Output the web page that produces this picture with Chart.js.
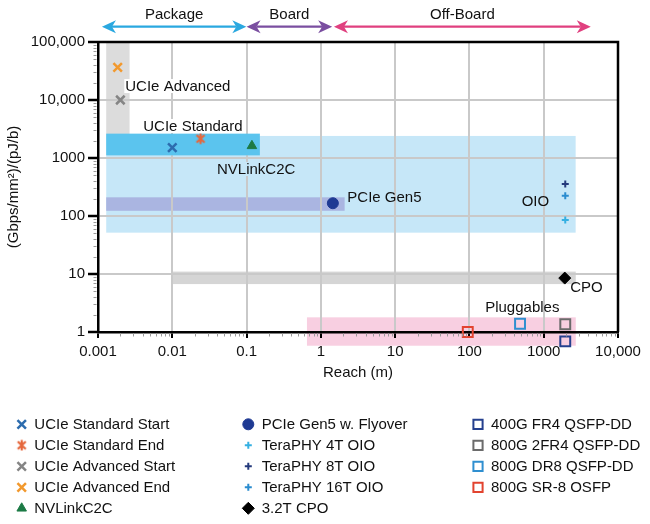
<!DOCTYPE html>
<html><head><meta charset="utf-8">
<script src="https://cdn.jsdelivr.net/npm/chart.js@4.4.1/dist/chart.umd.min.js"></script>
<style>html,body{margin:0;padding:0;background:#fff;}#wrap{width:650px;height:524px;}</style>
</head><body><div id="wrap"><canvas id="c" width="650" height="524"></canvas></div>
<script>
// ---------- data ----------
const seriesNames = ['UCIe Standard Start','UCIe Standard End','UCIe Advanced Start','UCIe Advanced End','NVLinkC2C',
  'PCIe Gen5 w. Flyover','TeraPHY 4T OIO','TeraPHY 8T OIO','TeraPHY 16T OIO','3.2T CPO',
  '400G FR4 QSFP-DD','800G 2FR4 QSFP-DD','800G DR8 QSFP-DD','800G SR-8 OSFP'];
const seriesReach = [0.01, 0.024, 0.002, 0.00184, 0.118, 1.45, 1950, 1950, 1950, 1920, 1950, 1950, 480, 95];
const seriesDensity = [1510, 2150, 10000, 36500, 1620, 166, 85, 357, 224, 8.5, 0.69, 1.36, 1.39, 1.0];

const bandNames = ['UCIe Advanced','OIO','PCIe','CPO','Pluggables','UCIe Standard'];
const bandReachMin = [0.00129, 0.00129, 0.00129, 0.0102, 0.65, 0.00129];
const bandReachMax = [0.00266, 2690, 2.09, 2700, 2700, 0.151];
const bandDensityMin = [2040, 51.6, 123, 6.7, 0.58, 1110];
const bandDensityMax = [100000, 2400, 210, 11, 1.79, 2630];

const labelTexts = ['UCIe Advanced','UCIe Standard','NVLinkC2C','PCIe Gen5','OIO','CPO','Pluggables'];
const labelReach = [0.00233, 0.00407, 0.04, 2.27, 1185, 2275, 163];
const labelDensity = [17400, 3560, 646, 213, 176.5, 5.97, 2.7];

const regionNames = ['Package','Board','Off-Board'];
const regionStart = [0.00113, 0.1, 1.5];
const regionEnd = [0.0992, 1.42, 4300];

const xTickValues = [0.001, 0.01, 0.1, 1, 10, 100, 1000, 10000];
const xTickLabels = ['0.001','0.01','0.1','1','10','100','1000','10,000'];
const yTickValues = [1, 10, 100, 1000, 10000, 100000];
const yTickLabels = ['1','10','100','1000','10,000','100,000'];

// ---------- styles ----------
const FONT = "'Liberation Sans', Arial, Helvetica, sans-serif";
function makeAsterisk(color){
  const c=document.createElement('canvas'); c.width=12; c.height=12;
  const g=c.getContext('2d'); g.strokeStyle=color; g.lineWidth=2.2;
  g.beginPath(); g.moveTo(2,2.2); g.lineTo(10,9.8); g.moveTo(10,2.2); g.lineTo(2,9.8);
  g.moveTo(6,0.8); g.lineTo(6,11.2); g.stroke(); return c;
}
const seriesStyles = [
  {pointStyle:'crossRot', radius:6, borderWidth:2.5, color:'#2d6cae', fill:'#2d6cae'},
  {pointStyle:makeAsterisk('#e5673c'), radius:6, borderWidth:0, color:'#e5673c', fill:'#e5673c'},
  {pointStyle:'crossRot', radius:6, borderWidth:2.5, color:'#858585', fill:'#858585'},
  {pointStyle:'crossRot', radius:6, borderWidth:2.5, color:'#f2992e', fill:'#f2992e'},
  {pointStyle:'triangle', radius:5.5, borderWidth:1, color:'#1c7a45', fill:'#1c7a45'},
  {pointStyle:'circle', radius:5.5, borderWidth:1, color:'#1f3a93', fill:'#1f3a93'},
  {pointStyle:'cross', radius:3.5, borderWidth:2, color:'#35b0e2', fill:'#35b0e2'},
  {pointStyle:'cross', radius:3.5, borderWidth:2, color:'#243a7c', fill:'#243a7c'},
  {pointStyle:'cross', radius:3.5, borderWidth:2, color:'#2a8ccf', fill:'#2a8ccf'},
  {pointStyle:'rectRot', radius:6, borderWidth:1, color:'#000000', fill:'#000000'},
  {pointStyle:'rect', radius:7, borderWidth:2, color:'#25408e', fill:'rgba(0,0,0,0)'},
  {pointStyle:'rect', radius:7, borderWidth:2, color:'#6b6b6b', fill:'rgba(0,0,0,0)'},
  {pointStyle:'rect', radius:7, borderWidth:2, color:'#2f8fd0', fill:'rgba(0,0,0,0)'},
  {pointStyle:'rect', radius:7, borderWidth:2, color:'#e2432f', fill:'rgba(0,0,0,0)'}
];
const bandColors = ['#dcdcdc','#c6e7f8','#aab5e1','#d5d5d5','#f8cfe1','#5bc4ee'];
const bandOnTop = [false,false,false,false,false,true];
const labelBg = ['#ffffff','#ffffff','#c6e7f8',null,null,null,null];
const labelAlign = ['left','left','left','left','right','left','left'];
const regionColors = ['#2aa8e0','#7a4ea0','#e0407f'];

// ---------- plugins ----------
function drawBands(chart, top){
  const {ctx, scales:{x, y}} = chart;
  ctx.save();
  bandNames.forEach((n,i)=>{
    if (bandOnTop[i] !== top) return;
    const x0 = x.getPixelForValue(bandReachMin[i]), x1 = x.getPixelForValue(bandReachMax[i]);
    const y0 = y.getPixelForValue(bandDensityMin[i]), y1 = y.getPixelForValue(bandDensityMax[i]);
    ctx.fillStyle = bandColors[i];
    ctx.fillRect(x0, y1, x1-x0, y0-y1);
  });
  ctx.restore();
}
function marker(ctx, st, px, py){
  ctx.save();
  ctx.strokeStyle = st.color; ctx.fillStyle = st.fill; ctx.lineWidth = st.borderWidth;
  Chart.helpers.drawPoint(ctx, {pointStyle: st.pointStyle, radius: st.radius, borderWidth: st.borderWidth, rotation:0}, px, py);
  ctx.restore();
}
function arrowHead(ctx, tx, ty, dir){
  ctx.beginPath();
  ctx.moveTo(tx, ty);
  ctx.lineTo(tx + dir*14, ty - 6.5);
  ctx.lineTo(tx + dir*10, ty);
  ctx.lineTo(tx + dir*14, ty + 6.5);
  ctx.closePath(); ctx.fill();
}
const deco = {
  id:'deco',
  beforeDraw(chart){ drawBands(chart, false); },
  beforeDatasetsDraw(chart){
    drawBands(chart, true);
    const {ctx, scales:{x, y}} = chart;
    ctx.save();
    ctx.font = '15px ' + FONT; ctx.textBaseline = 'middle';
    labelTexts.forEach((t,i)=>{
      const px = x.getPixelForValue(labelReach[i]), py = y.getPixelForValue(labelDensity[i]);
      ctx.textAlign = labelAlign[i];
      const w = ctx.measureText(t).width;
      if (labelBg[i]) { ctx.fillStyle = labelBg[i]; ctx.fillRect(labelAlign[i]==='left'?px-1:px-w-1, py-7, w+2, 14); }
      ctx.fillStyle = '#111';
      ctx.fillText(t, px, py+0.5);
    });
    ctx.restore();
  },
  afterDatasetsDraw(chart){
    // points that fall outside the plot area (e.g. below the x axis) are drawn at the library's computed position
    const {ctx, chartArea:a} = chart;
    chart.data.datasets.forEach((ds,i)=>{
      const meta = chart.getDatasetMeta(i);
      meta.data.forEach(el=>{
        if (el.y > a.bottom + 0.5 || el.y < a.top - 0.5 || el.x < a.left - 0.5 || el.x > a.right + 0.5) {
          marker(ctx, seriesStyles[i], el.x, el.y);
        }
      });
    });
  },
  afterDraw(chart){
    const {ctx, chartArea:a, scales:{x, y}} = chart;
    ctx.save();
    // frame top/right
    ctx.strokeStyle = '#000'; ctx.lineWidth = 2.5;
    ctx.beginPath(); ctx.moveTo(a.left-1, a.top); ctx.lineTo(a.right, a.top); ctx.lineTo(a.right, a.bottom); ctx.stroke();
    // minor ticks
    ctx.strokeStyle = '#9a9a9a'; ctx.lineWidth = 1;
    for (let d=0; d<xTickValues.length-1; d++) for (let k=2; k<10; k++){
      const px = Math.round(x.getPixelForValue(xTickValues[d]*k))+0.5;
      ctx.beginPath(); ctx.moveTo(px, a.bottom+1.5); ctx.lineTo(px, a.bottom+4.5); ctx.stroke();
    }
    for (let d=0; d<yTickValues.length-1; d++) for (let k=2; k<10; k++){
      const py = Math.round(y.getPixelForValue(yTickValues[d]*k))+0.5;
      ctx.beginPath(); ctx.moveTo(a.left-1.5, py); ctx.lineTo(a.left-4.5, py); ctx.stroke();
    }
    // region arrows
    const ay = 26.7;
    ctx.font = '15px ' + FONT; ctx.textAlign='center'; ctx.textBaseline='middle';
    regionNames.forEach((n,i)=>{
      const x0 = x.getPixelForValue(regionStart[i]), x1 = x.getPixelForValue(regionEnd[i]);
      ctx.strokeStyle = regionColors[i]; ctx.fillStyle = regionColors[i]; ctx.lineWidth = 2.2;
      ctx.beginPath(); ctx.moveTo(x0+10, ay); ctx.lineTo(x1-10, ay); ctx.stroke();
      arrowHead(ctx, x0, ay, 1); arrowHead(ctx, x1, ay, -1);
      ctx.fillStyle = '#111'; ctx.fillText(n, (x0+x1)/2, 15);
    });
    // legend
    const colMarker = [21.7, 248.3, 478], colText = [34.3, 261.7, 491];
    ctx.textAlign='left';
    seriesNames.forEach((n,i)=>{
      const col = i<5?0:(i<10?1:2), row = i<5?i:(i<10?i-5:i-10);
      const py = 424.3 + row*21;
      const st = Object.assign({}, seriesStyles[i]);
      if (st.pointStyle==='rect') st.radius = 6.5;
      marker(ctx, st, colMarker[col], py);
      ctx.fillStyle='#111'; ctx.fillText(n, colText[col], py+0.5);
    });
    ctx.restore();
  }
};

const datasets = seriesNames.map((n,i)=>({
  label:n,
  data:[{x:seriesReach[i], y:seriesDensity[i]}],
  pointStyle: seriesStyles[i].pointStyle,
  pointRadius: seriesStyles[i].radius,
  pointBorderWidth: seriesStyles[i].borderWidth,
  borderColor: seriesStyles[i].color,
  backgroundColor: seriesStyles[i].fill,
  pointHoverRadius: seriesStyles[i].radius,
  clip:false
}));

new Chart(document.getElementById('c'), {
  type:'scatter',
  data:{datasets},
  plugins:[deco],
  options:{
    responsive:false, animation:false, devicePixelRatio:1,
    layout:{padding:{left:0, top:42, right:32, bottom:142}},
    plugins:{legend:{display:false}, tooltip:{enabled:false}},
    scales:{
      x:{
        type:'logarithmic', min:0.001, max:10000,
        afterBuildTicks: s => { s.ticks = xTickValues.map(v=>({value:v})); },
        afterFit: s => { s.height = 50; },
        ticks:{ callback:(v,i)=>xTickLabels[i], font:{family:FONT, size:15}, color:'#111', padding:5, maxRotation:0, autoSkip:false },
        grid:{ color:'#c9c9c9', lineWidth:2, tickColor:'#000', tickLength:6, tickWidth:2 },
        border:{ color:'#000', width:2.5 },
        title:{ display:true, text:'Reach (m)', font:{family:FONT, size:15}, color:'#111', padding:{top:0,bottom:0} }
      },
      y:{
        type:'logarithmic', min:1, max:100000,
        afterBuildTicks: s => { s.ticks = yTickValues.map(v=>({value:v})); },
        afterFit: s => { s.width = 98; },
        ticks:{ callback:(v,i)=>yTickLabels[i], font:{family:FONT, size:15}, color:'#111', padding:3, autoSkip:false },
        grid:{ color:'#c9c9c9', lineWidth:2, tickColor:'#000', tickLength:10, tickWidth:2.5 },
        border:{ color:'#000', width:2.5 },
        title:{ display:true, text:'(Gbps/mm²)/(pJ/b)', font:{family:FONT, size:15}, color:'#111', padding:{top:5,bottom:0} }
      }
    }
  }
});
</script></body></html>
